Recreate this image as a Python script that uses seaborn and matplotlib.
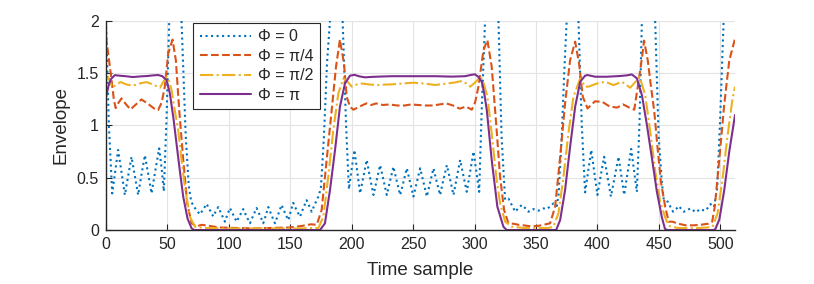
import pandas as pd
import seaborn as sns
import matplotlib
matplotlib.use("Agg")
import matplotlib.pyplot as plt

# values (time sample, envelope)
phi0_t = [0, 2.5, 5.2, 7.5, 10.0, 12.8, 15.5, 18.2, 20.9, 23.6, 26.3, 29.0, 31.8, 34.5, 37.2, 40.3,
          43.4, 45.5, 47.2, 49.5, 51.6, 56.5, 61.6, 65.0, 67.5, 69.5,
          72.5, 76.5, 79.5, 82.0, 84.7, 87.4, 89.5, 91.5, 94.2, 96.9, 99.0, 101.0, 103.7, 106.4,
          109.1, 111.8, 114.5, 117.3, 120.0, 122.7, 125.4, 128.1, 130.2, 132.2, 134.9, 137.6,
          140.3, 143.0, 145.7, 148.5, 150.5, 152.5, 155.2, 158.0, 160.7, 163.4, 165.5, 167.5,
          170.2, 172.9, 175.0, 177.5, 180.0, 182.4, 187.5, 192.7, 195.5, 197.8,
          200.0, 202.3, 204.6, 206.9, 209.6, 212.3, 215.0, 217.8, 220.5, 223.2, 225.9, 228.6,
          231.3, 234.0, 236.7, 239.5, 242.2, 244.9, 247.6, 250.3, 253.0, 255.8, 258.5, 261.2,
          263.9, 266.6, 269.3, 272.0, 274.7, 277.5, 280.2, 282.9, 285.6, 288.3, 291.0, 293.7,
          296.5, 299.2, 301.5, 303.8, 306.0, 308.6, 314.0, 319.5, 322.0, 324.9,
          327.6, 330.3, 333.1, 335.8, 338.5, 341.2, 343.9, 346.0, 348.0, 350.0, 352.0, 354.0,
          356.1, 358.8, 361.5, 364.3, 367.0, 368.5, 371.0, 373.0, 375.0, 380.0, 384.6, 387.3, 390.0,
          392.5, 395.0, 397.5, 400.0, 402.7, 405.5, 408.2, 411.0, 414.1, 417.2, 419.5, 421.8,
          424.6, 427.5, 429.8, 432.1, 434.2, 436.2, 441.5, 447.0, 449.8, 452.5, 454.0,
          457.3, 459.5, 461.6, 464.0, 466.3, 468.3, 470.3, 473.0, 475.8, 477.8, 479.8, 481.9,
          483.9, 486.0, 488.0, 490.0, 492.0, 494.8, 497.5, 500.0, 502.7, 507.5, 512]
phi0_env = [2.05, 1.0, 0.35, 0.55, 0.765, 0.55, 0.335, 0.52, 0.70, 0.52, 0.335, 0.53, 0.715, 0.53, 0.35, 0.57,
            0.78, 0.58, 0.37, 1.1, 2.0, 2.6, 2.0, 0.9, 0.42, 0.27,
            0.21, 0.15, 0.2, 0.25, 0.19, 0.13, 0.18, 0.22, 0.15, 0.08, 0.15, 0.21, 0.145, 0.08,
            0.14, 0.2, 0.13, 0.065, 0.14, 0.21, 0.14, 0.065, 0.14, 0.22, 0.14, 0.065,
            0.15, 0.24, 0.165, 0.095, 0.18, 0.26, 0.19, 0.128, 0.21, 0.285, 0.23, 0.175,
            0.25, 0.318, 0.4, 0.9, 1.6, 2.0, 2.6, 2.0, 1.0, 0.39,
            0.58, 0.765, 0.56, 0.35, 0.51, 0.67, 0.5, 0.335, 0.48, 0.62, 0.48, 0.335,
            0.47, 0.605, 0.47, 0.335, 0.46, 0.59, 0.455, 0.32, 0.455, 0.59, 0.455, 0.32,
            0.455, 0.59, 0.46, 0.335, 0.48, 0.62, 0.48, 0.335, 0.5, 0.67, 0.52, 0.365,
            0.56, 0.75, 0.56, 0.365, 1.2, 2.0, 2.6, 2.0, 0.9, 0.29,
            0.30, 0.24, 0.175, 0.21, 0.24, 0.21, 0.175, 0.19, 0.20, 0.19, 0.185, 0.195,
            0.207, 0.2, 0.225, 0.255, 0.23, 0.35, 0.9, 1.5, 2.0, 2.6, 2.0, 1.0, 0.36,
            0.56, 0.765, 0.55, 0.335, 0.52, 0.70, 0.51, 0.32, 0.51, 0.70, 0.52, 0.335,
            0.55, 0.775, 0.57, 0.365, 1.0, 2.0, 2.6, 2.0, 0.9, 0.45, 0.29,
            0.27, 0.22, 0.175, 0.2, 0.229, 0.2, 0.175, 0.19, 0.207, 0.19, 0.17, 0.185,
            0.2, 0.19, 0.185, 0.215, 0.248, 0.22, 0.4, 1.1, 2.0, 2.6, 2.7]

phi4_t = [0, 2.0, 4.5, 6.5, 8.0, 10.5, 12.8, 16.5, 20.1, 24.5, 29.0, 35.0, 39.5, 42.6, 45.5, 48.0,
          50.8, 54.3, 57.0, 59.7, 63.0, 66.2, 69.8, 73.8,
          78, 84, 92, 105, 120, 135, 150, 160, 167, 171.6,
          175.6, 179.7, 183.8, 187.3, 190.5, 193.8, 196.0, 198.7, 201.5, 206.5, 212.0, 216.0,
          220.0, 225.5, 231.0, 237.0, 243.0, 248.5, 254.0, 260.0, 266.0, 271.5, 277.0, 282.5,
          288.0, 293.0, 297.8, 300.5, 303.2, 307.3, 310.5, 314.0, 317.6, 320.8, 324.1, 327.6,
          331.7, 336, 340, 346, 352, 358, 361.5,
          365.6, 369.7, 373.7, 377.8, 381.9, 385.1, 388.1, 392.0, 398.0, 404.0, 410.0, 416.0,
          421.0, 426.0, 430.0, 433.5, 436.2, 438.0, 441.0, 443.5, 446.3, 449.0, 451.7, 455.2, 458.0,
          461, 466, 472, 478, 484, 490, 493.4,
          495.5, 499.2, 503.2, 507.3, 512]
phi4_env = [1.85, 1.68, 1.45, 1.25, 1.165, 1.22, 1.258, 1.2, 1.153, 1.2, 1.248, 1.2, 1.16, 1.147, 1.22, 1.37,
            1.69, 1.82, 1.62, 1.15, 0.67, 0.255, 0.064, 0.035,
            0.05, 0.04, 0.025, 0.02, 0.015, 0.02, 0.025, 0.04, 0.055, 0.05,
            0.19, 0.67, 1.147, 1.56, 1.82, 1.59, 1.274, 1.178, 1.15, 1.18, 1.21, 1.195,
            1.21, 1.195, 1.20, 1.19, 1.19, 1.2, 1.195, 1.19, 1.19, 1.2, 1.21, 1.19,
            1.16, 1.18, 1.15, 1.22, 1.37, 1.72, 1.815, 1.56, 1.02, 0.51, 0.19, 0.064,
            0.06, 0.05, 0.045, 0.035, 0.04, 0.055, 0.064,
            0.223, 0.70, 1.21, 1.624, 1.80, 1.59, 1.274, 1.162, 1.23, 1.225, 1.18, 1.17,
            1.2, 1.17, 1.15, 1.42, 1.64, 1.81, 1.62, 1.38, 1.13, 0.78, 0.46, 0.22, 0.08,
            0.08, 0.06, 0.045, 0.045, 0.05, 0.06, 0.08,
            0.22, 0.68, 1.2, 1.62, 1.83]

phi2_t = [0, 2.0, 4.0, 5.7, 8.5, 12.0, 17.0, 22.0, 27.5, 33.0, 38.5, 44.0, 47.0, 49.4, 51.5, 53.5,
          56.0, 58.9, 61.5, 64.3, 68.4, 72.5,
          80, 100, 130, 160, 168, 173.0,
          177.0, 181.0, 185.1, 189.2, 193.3, 196.5, 200.1, 204.0, 208.3, 215.0, 221.8, 227.0,
          232.7, 241.0, 250.3, 259.0, 268.0, 277.5, 284.0, 289.7, 293.5, 296.5, 300.5, 305.0,
          307.5, 310.5, 313.0, 315.4, 318.0, 320.8, 324.9, 330.3,
          340, 350, 360, 364.2,
          368.3, 372.4, 376.4, 380.5, 386.0, 390.0, 392.8, 396.0, 399.6, 406.4, 413.1, 419.9,
          426.7, 430.5, 434.3, 438.9, 443.0, 447.1, 451.1, 455.2, 458,
          465, 480, 490, 493.7,
          497.8, 501.9, 505.9, 510, 512]
phi2_env = [1.427, 1.46, 1.40, 1.363, 1.39, 1.414, 1.39, 1.38, 1.40, 1.414, 1.39, 1.36, 1.42, 1.465, 1.42, 1.338,
            1.15, 0.955, 0.68, 0.414, 0.127, 0.032,
            0.02, 0.015, 0.015, 0.015, 0.02, 0.02,
            0.127, 0.51, 0.955, 1.306, 1.449, 1.42, 1.37, 1.39, 1.40, 1.39, 1.386, 1.39,
            1.392, 1.40, 1.408, 1.40, 1.386, 1.40, 1.41, 1.424, 1.40, 1.37, 1.41, 1.465,
            1.40, 1.274, 1.03, 0.764, 0.48, 0.255, 0.08, 0.032,
            0.02, 0.018, 0.02, 0.032,
            0.159, 0.51, 0.924, 1.274, 1.449, 1.37, 1.37, 1.385, 1.40, 1.417, 1.385, 1.417,
            1.36, 1.41, 1.465, 1.29, 0.94, 0.557, 0.27, 0.12, 0.04,
            0.02, 0.018, 0.025, 0.03,
            0.16, 0.5, 0.9, 1.26, 1.37]

phipi_t = [0, 2.0, 4.0, 7.3, 11.0, 16.0, 22.0, 28.0, 34.0, 38.5, 42.6, 46.0, 49.4, 52.1, 55.0, 57.5,
           60.3, 63.0, 66.5, 69.8, 72.0,
           174.3, 178.3, 182.4, 186.5, 190.5, 194.6, 198.7, 202.3, 206.5, 211.0, 216.0, 221.8,
           232.7, 250.3, 268.0, 281.5, 292.4, 297.8, 300.5, 303.0, 305.9, 308.0, 310.0, 314.0,
           318.6, 323.5, 326.2,
           366.4, 369.7, 373.7, 377.8, 381.9, 386.0, 390.0, 392.0, 398.2, 407.7, 418.6, 424.0,
           428.0, 432.1, 436.2, 440.3, 444.4, 448.4, 452.5, 455.0, 457,
           494.5, 496, 499.2, 503.2, 507.3, 512]
phipi_env = [1.258, 1.37, 1.44, 1.48, 1.475, 1.47, 1.462, 1.468, 1.472, 1.478, 1.481, 1.47, 1.433, 1.306, 1.07, 0.828,
             0.56, 0.318, 0.11, 0.016, 0.0,
             0.0, 0.064, 0.382, 0.764, 1.178, 1.401, 1.475, 1.483, 1.468, 1.459, 1.463, 1.466,
             1.47, 1.47, 1.47, 1.466, 1.47, 1.484, 1.487, 1.465, 1.417, 1.30, 1.147, 0.669,
             0.223, 0.032, 0.0,
             0.0, 0.096, 0.382, 0.796, 1.178, 1.417, 1.475, 1.481, 1.465, 1.465, 1.472, 1.478,
             1.487, 1.45, 1.29, 1.003, 0.685, 0.366, 0.12, 0.01, 0.0,
             0.0, 0.01, 0.1, 0.38, 0.75, 1.1]

series = [
    ("Φ = 0", phi0_t, phi0_env, "#0072BD", ":"),
    ("Φ = π/4", phi4_t, phi4_env, "#D95319", "--"),
    ("Φ = π/2", phi2_t, phi2_env, "#EDB120", "-."),
    ("Φ = π", phipi_t, phipi_env, "#7E2F8E", "-"),
]

sns.set_style("ticks")
plt.rcParams["font.family"] = ["Liberation Sans", "DejaVu Sans"]

fig = plt.figure(figsize=(8.14, 2.84), dpi=100)
ax = fig.add_axes([0.130, 0.190, 0.773, 0.737])

for name, t, env, col, ls in series:
    df = pd.DataFrame({"t": t, "env": env})
    sns.lineplot(data=df, x="t", y="env", ax=ax, color=col, linestyle=ls, lw=1.5,
                 label=name, sort=False, estimator=None)

ax.set_xlim(0, 512)
ax.set_ylim(0, 2)
ax.set_xticks(range(0, 501, 50))
ax.set_yticks([0, 0.5, 1, 1.5, 2])
ax.set_yticklabels(["0", "0.5", "1", "1.5", "2"])
ax.grid(True, color="#e3e3e3", lw=0.8)
ax.set_axisbelow(True)
for side in ["top", "right"]:
    ax.spines[side].set_visible(False)
for side in ["left", "bottom"]:
    ax.spines[side].set_color("#262626")
    ax.spines[side].set_linewidth(1.0)
ax.tick_params(direction="in", length=4, width=0.8, colors="#262626", labelsize=11.5, pad=5)
ax.set_xlabel("Time sample", fontsize=13.5, color="#262626", labelpad=7)
ax.set_ylabel("Envelope", fontsize=13.5, color="#262626", labelpad=5)

leg = ax.legend(loc="upper left", bbox_to_anchor=(0.139, 0.99), borderaxespad=0,
                fontsize=11.5, handlelength=3.2, labelspacing=0.28, handletextpad=0.45,
                borderpad=0.4, fancybox=False, framealpha=1, edgecolor="#262626")
leg.get_frame().set_linewidth(0.8)

fig.savefig("out.png", dpi=100)
